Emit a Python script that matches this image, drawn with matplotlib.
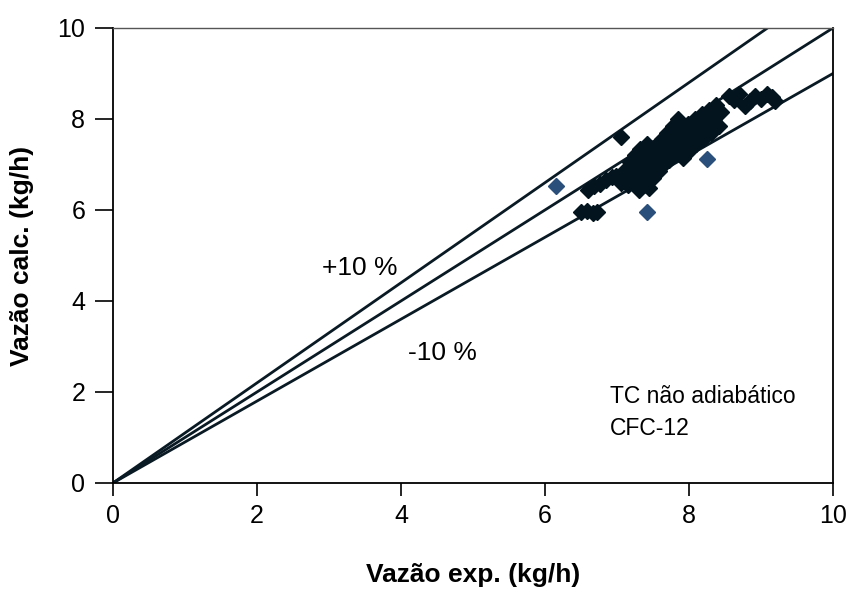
"""
Vazão calculada vs. experimental (TC não adiabático, CFC-12).
"""
import matplotlib
matplotlib.use("Agg")
import matplotlib.pyplot as plt
import numpy as np

plt.rcParams["font.family"] = ["Liberation Sans", "DejaVu Sans"]

# experimental points (black)
exp_x = [6.50, 6.58, 6.66, 6.72,
         6.60, 6.68, 6.76, 6.85, 6.93, 6.98,
         7.05,
         7.05, 7.10, 7.12, 7.15, 7.18, 7.20, 7.22, 7.25, 7.28, 7.30, 7.32,
         7.35, 7.38, 7.40, 7.42, 7.45, 7.48, 7.50, 7.52, 7.55, 7.58, 7.60,
         7.30, 7.45,
         7.62, 7.65, 7.68, 7.70, 7.72, 7.75, 7.78, 7.80, 7.82, 7.85, 7.88,
         7.90, 7.92, 7.95, 7.98, 8.00, 8.05, 8.08, 8.10, 8.15, 8.18, 8.20,
         8.25, 8.28, 8.30, 8.35, 8.38, 8.42, 8.45,
         8.55, 8.62, 8.70, 8.78, 8.85, 8.92, 9.00, 9.08, 9.15, 9.20]
calc_y = [5.95, 5.97, 5.94, 5.96,
          6.45, 6.52, 6.58, 6.66, 6.72, 6.75,
          7.60,
          6.60, 6.75, 6.90, 6.55, 7.05, 6.70, 6.85, 7.20, 6.62, 7.00, 7.35,
          6.80, 7.10, 6.55, 7.45, 6.95, 7.25, 6.70, 7.05, 7.40, 6.85, 7.15,
          6.45, 6.48,
          7.55, 7.00, 7.30, 7.70, 7.10, 7.45, 7.85, 7.25, 7.60, 8.00, 7.35,
          7.75, 7.15, 7.50, 7.90, 7.30, 7.65, 8.00, 7.45, 7.80, 8.10, 7.55,
          7.90, 8.20, 7.70, 8.00, 8.30, 7.85, 8.15,
          8.50, 8.42, 8.55, 8.28, 8.40, 8.50, 8.45, 8.55, 8.48, 8.40]

# outliers (blue)
out_x = [6.15, 7.42, 8.25]
out_y = [6.52, 5.95, 7.12]

fig = plt.figure(figsize=(8.54, 5.89), dpi=100)
ax = fig.add_axes([0.1323, 0.18, 0.8431, 0.7725])

xs = np.array([0, 10])
ax.plot(xs, xs * 1.1, color="#0a1a24", lw=2.0)
ax.plot(xs, xs, color="#0a1a24", lw=2.0)
ax.plot(xs, xs * 0.9, color="#0a1a24", lw=2.0)

ax.plot(exp_x, calc_y, "D", color="#03141f", markersize=8.5, linestyle="")
ax.plot(out_x, out_y, "D", color="#2a4f7a", markersize=8.5, linestyle="")

ax.text(2.9, 4.73, "+10 %", fontsize=19, va="center")
ax.text(4.1, 2.86, "-10 %", fontsize=19, va="center")
ax.text(6.9, 1.89, "TC não adiabático", fontsize=16.5, va="center")
ax.text(6.9, 1.2, "CFC-12", fontsize=16.5, va="center")

ax.set_xlim(0, 10)
ax.set_ylim(0, 10)
ax.set_xticks(range(0, 11, 2))
ax.set_yticks(range(0, 11, 2))
ax.tick_params(axis="x", direction="out", length=9, width=1.2, labelsize=18, pad=6)
ax.tick_params(axis="y", direction="out", length=13, width=1.2, labelsize=18, pad=7)
ax.set_xlabel("Vazão exp. (kg/h)", fontsize=19, fontweight="bold")
ax.set_ylabel("Vazão calc. (kg/h)", fontsize=19, fontweight="bold")
ax.xaxis.set_label_coords(0.5, -0.176)
ax.yaxis.set_label_coords(-0.11, 0.5)
for s in ["left", "bottom", "right"]:
    ax.spines[s].set_linewidth(1.3)
ax.spines["top"].set_linewidth(1.0)
ax.spines["top"].set_color("#555555")

fig.savefig("out.png", dpi=100)
